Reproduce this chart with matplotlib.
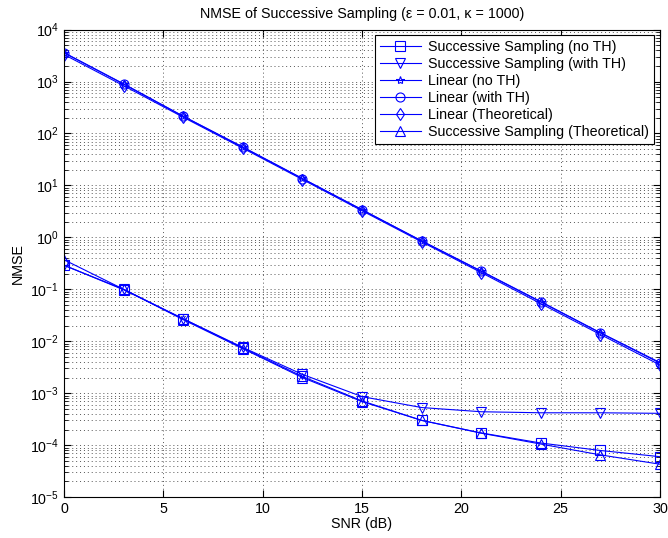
import matplotlib
matplotlib.use("Agg")
import matplotlib.pyplot as plt
from matplotlib.ticker import LogLocator, NullFormatter, MultipleLocator

plt.rcParams['font.family'] = ['Liberation Sans', 'DejaVu Sans']
plt.rcParams['mathtext.fontset'] = 'custom'
plt.rcParams['mathtext.rm'] = 'Liberation Sans'

snr = [0, 3, 6, 9, 12, 15, 18, 21, 24, 27, 30]

ss_no_th = [0.29, 0.098, 0.027, 0.0074, 0.0021, 0.00071, 0.0003, 0.000172, 0.00011, 7.9e-5, 6.0e-5]
ss_with_th = [0.29, 0.1, 0.027, 0.0076, 0.0023, 0.00086, 0.00053, 0.00044, 0.00042, 0.00042, 0.00041]
lin_no_th = [3600, 900, 215, 55, 13.6, 3.4, 0.86, 0.225, 0.058, 0.0146, 0.0039]
lin_with_th = [3550, 890, 213, 54, 13.5, 3.4, 0.85, 0.222, 0.057, 0.0145, 0.0038]
lin_theory = [3300, 830, 205, 52, 13.0, 3.25, 0.82, 0.21, 0.053, 0.0135, 0.0035]
ss_theory = [0.37, 0.1, 0.026, 0.0072, 0.002, 0.00069, 0.0003, 0.00017, 0.000105, 6.5e-5, 4.3e-5]

series = [
    ("Successive Sampling (no TH)", ss_no_th, 's'),
    ("Successive Sampling (with TH)", ss_with_th, 'v'),
    ("Linear (no TH)", lin_no_th, '*'),
    ("Linear (with TH)", lin_with_th, 'o'),
    ("Linear (Theoretical)", lin_theory, 'd'),
    ("Successive Sampling (Theoretical)", ss_theory, '^'),
]

FS = 10.3

fig = plt.figure(figsize=(6.68, 5.38), dpi=100)
ax = fig.add_axes([0.096, 0.076, 0.892, 0.869])

for label, vals, mk in series:
    ax.semilogy(snr, vals, color='#0000ff', linewidth=0.8, marker=mk,
                markersize=6.5 if mk != '*' else 6, markerfacecolor='none',
                markeredgecolor='#0000ff', markeredgewidth=0.8, label=label)

ax.set_xlim(0, 30)
ax.set_ylim(1e-5, 1e4)
ax.xaxis.set_major_locator(MultipleLocator(5))
ax.yaxis.set_major_locator(LogLocator(base=10, numticks=20))
ax.yaxis.set_minor_locator(LogLocator(base=10, subs=range(2, 10), numticks=100))
ax.yaxis.set_minor_formatter(NullFormatter())

ax.grid(True, which='major', linestyle=(0, (1, 3)), color='#555555', linewidth=0.7)
ax.grid(True, which='minor', axis='y', linestyle=(0, (1, 3)), color='#555555', linewidth=0.7)
ax.tick_params(which='both', direction='in', top=True, right=True, labelsize=FS)
ax.tick_params(which='major', length=5)
ax.tick_params(which='minor', length=3)
for s in ax.spines.values():
    s.set_linewidth(0.8)

ax.set_xlabel("SNR (dB)", fontsize=FS, labelpad=1)
ax.set_ylabel("NMSE", fontsize=FS, labelpad=4)
ax.set_title("NMSE of Successive Sampling (\u03b5 = 0.01, \u03ba = 1000)", fontsize=FS, pad=8)

leg = ax.legend(loc='upper right', fontsize=FS, frameon=True, fancybox=False,
                edgecolor='black', framealpha=1, handlelength=2.9,
                borderaxespad=0.4, labelspacing=0.2, borderpad=0.35,
                handletextpad=0.5)
leg.get_frame().set_linewidth(0.8)

fig.savefig("out.png", dpi=100)
